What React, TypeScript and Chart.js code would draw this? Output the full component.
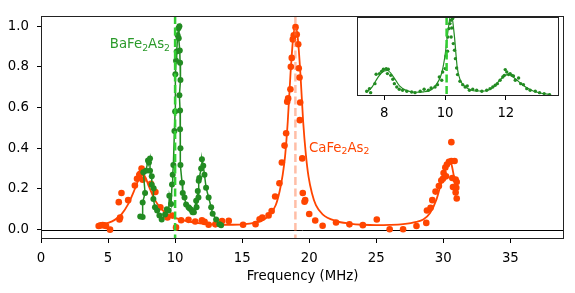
import React, { useEffect, useRef } from 'react';
import Chart from 'chart.js/auto';

const FONT = 'DejaVu Sans';
const FS = 13.3;
const ORANGE = '#ff4500';
const GREEN = '#228b22';
const LIME = '#32cd32';
const SALMON = 'rgba(255,110,60,0.45)';

// CaFe2As2 data points (frequency MHz, normalized amplitude)
const caFreq = [4.30, 4.45, 4.60, 4.72, 4.85, 5.15, 5.80, 5.85, 5.90, 6.00, 6.50, 7.00, 7.16, 7.33, 7.40, 7.50, 7.58, 8.20, 8.53, 8.90, 9.43, 9.80, 10.07, 10.45, 11.0, 11.5, 12.0, 12.2, 12.5, 13.0, 13.5, 14.0, 15.07, 16.0, 16.3, 16.5, 16.97, 17.2, 17.46, 17.78, 17.96, 18.16, 18.28, 18.36, 18.43, 18.6, 18.63, 18.7, 18.78, 18.85, 18.98, 19.07, 19.18, 19.22, 19.28, 19.3, 19.33, 19.48, 19.52, 19.65, 19.7, 20.0, 20.45, 21.0, 22.0, 23.0, 24.0, 25.04, 26.0, 27.0, 28.0, 28.73, 28.78, 29.05, 29.18, 29.42, 29.67, 29.85, 29.97, 30.02, 30.15, 30.2, 30.27, 30.42, 30.6, 30.6, 30.67, 30.72, 30.84, 30.92, 30.92, 30.97, 31.0, 31.0];
const caAmp = [0.018, 0.021, 0.022, 0.021, 0.018, 0.0, 0.135, 0.05, 0.06, 0.18, 0.145, 0.217, 0.25, 0.27, 0.275, 0.30, 0.245, 0.225, 0.185, 0.11, 0.06, 0.069, 0.011, 0.046, 0.048, 0.04, 0.046, 0.038, 0.024, 0.026, 0.042, 0.043, 0.024, 0.027, 0.051, 0.059, 0.07, 0.091, 0.163, 0.228, 0.33, 0.413, 0.474, 0.629, 0.645, 0.69, 0.80, 0.844, 0.935, 0.955, 0.995, 0.959, 0.911, 0.793, 0.748, 0.538, 0.625, 0.35, 0.18, 0.137, 0.145, 0.077, 0.045, 0.019, 0.035, 0.026, 0.022, 0.05, 0.002, 0.002, 0.018, 0.033, 0.094, 0.107, 0.145, 0.187, 0.214, 0.241, 0.25, 0.278, 0.305, 0.262, 0.32, 0.333, 0.337, 0.43, 0.254, 0.209, 0.337, 0.246, 0.182, 0.206, 0.234, 0.153];

// CaFe2As2 fit curve
const caFitFreq = [4.3, 5.0, 5.5, 6.0, 6.5, 7.0, 7.3, 7.55, 7.8, 8.0, 8.5, 9.0, 9.5, 10, 11, 12, 13, 14, 15, 16, 16.5, 17, 17.5, 17.8, 18.0, 18.2, 18.4, 18.6, 18.8, 18.97, 19.15, 19.35, 19.55, 19.75, 19.95, 20.2, 20.5, 21, 22, 23, 24, 25, 26, 27, 28, 28.5, 29, 29.5, 29.8, 30.1, 30.35, 30.5, 30.65, 30.8, 31.0];
const caFitAmp = [0.02, 0.033, 0.048, 0.075, 0.125, 0.2, 0.25, 0.275, 0.255, 0.22, 0.145, 0.1, 0.073, 0.058, 0.04, 0.03, 0.025, 0.024, 0.026, 0.035, 0.045, 0.07, 0.12, 0.19, 0.26, 0.36, 0.53, 0.76, 0.94, 1.0, 0.94, 0.76, 0.53, 0.37, 0.26, 0.18, 0.12, 0.075, 0.042, 0.03, 0.024, 0.022, 0.023, 0.027, 0.038, 0.05, 0.08, 0.15, 0.22, 0.29, 0.33, 0.34, 0.31, 0.26, 0.22];

// BaFe2As2 data (points joined in measured order)
const baFreq = [7.40, 7.58, 7.58, 7.76, 7.63, 7.83, 7.98, 8.05, 8.13, 8.13, 8.26, 8.26, 8.40, 8.38, 8.50, 8.66, 8.83, 9.00, 9.25, 9.38, 9.52, 9.57, 9.70, 9.77, 9.82, 9.87, 9.95, 10.00, 10.02, 10.07, 10.12, 10.19, 10.25, 10.32, 10.27, 10.35, 10.37, 10.40, 10.32, 10.37, 10.37, 10.40, 10.40, 10.52, 10.57, 10.70, 10.82, 11.00, 11.07, 11.20, 11.30, 11.40, 11.57, 11.60, 11.69, 11.74, 11.76, 11.80, 11.94, 12.00, 12.10, 12.19, 12.31, 12.50, 12.69, 12.80, 13.06, 13.30, 13.43];
const baAmp = [0.065, 0.062, 0.133, 0.18, 0.282, 0.289, 0.34, 0.33, 0.349, 0.289, 0.262, 0.22, 0.203, 0.15, 0.11, 0.094, 0.07, 0.05, 0.075, 0.10, 0.094, 0.166, 0.126, 0.222, 0.27, 0.318, 0.485, 0.58, 0.764, 0.83, 0.876, 0.955, 0.99, 1.0, 0.94, 0.88, 0.82, 0.735, 0.66, 0.585, 0.493, 0.40, 0.318, 0.23, 0.18, 0.158, 0.123, 0.11, 0.105, 0.098, 0.086, 0.086, 0.142, 0.11, 0.19, 0.158, 0.24, 0.254, 0.30, 0.346, 0.314, 0.27, 0.206, 0.158, 0.11, 0.078, 0.05, 0.027, 0.022];

// Inset: BaFe2As2 detail
const insFreq = [7.42, 7.55, 7.51, 7.69, 7.73, 7.84, 7.91, 7.97, 8.06, 8.13, 8.10, 8.21, 8.28, 8.33, 8.41, 8.49, 8.60, 8.74, 8.90, 9.01, 9.18, 9.31, 9.45, 9.54, 9.67, 9.75, 9.81, 9.89, 9.92, 10.00, 10.03, 10.08, 10.09, 10.13, 10.16, 10.19, 10.22, 10.25, 10.20, 10.27, 10.31, 10.34, 10.38, 10.41, 10.49, 10.58, 10.66, 10.73, 10.80, 10.91, 11.04, 11.21, 11.37, 11.48, 11.57, 11.65, 11.72, 11.81, 11.90, 11.95, 11.98, 12.03, 12.09, 12.14, 12.20, 12.25, 12.31, 12.42, 12.49, 12.58, 12.69, 12.80, 12.97, 13.11, 13.26, 13.44];
const insAmp = [0.066, 0.05, 0.098, 0.158, 0.27, 0.278, 0.305, 0.33, 0.338, 0.33, 0.278, 0.257, 0.21, 0.158, 0.118, 0.09, 0.078, 0.066, 0.058, 0.05, 0.066, 0.09, 0.078, 0.106, 0.118, 0.146, 0.237, 0.198, 0.297, 0.338, 0.488, 0.545, 0.716, 0.816, 0.876, 0.915, 0.823, 0.936, 0.716, 0.637, 0.557, 0.457, 0.345, 0.266, 0.186, 0.146, 0.118, 0.13, 0.078, 0.09, 0.078, 0.066, 0.078, 0.098, 0.118, 0.138, 0.158, 0.198, 0.237, 0.257, 0.326, 0.297, 0.266, 0.278, 0.257, 0.249, 0.198, 0.225, 0.158, 0.146, 0.098, 0.078, 0.066, 0.05, 0.039, 0.027];
const insFitFreq = [7.4, 7.6, 7.8, 8.0, 8.1, 8.3, 8.5, 8.7, 9.0, 9.3, 9.6, 9.8, 9.9, 10.0, 10.1, 10.2, 10.3, 10.4, 10.5, 10.7, 11.0, 11.3, 11.6, 11.8, 12.0, 12.1, 12.3, 12.6, 12.9, 13.2, 13.45];
const insFitAmp = [0.05, 0.12, 0.24, 0.31, 0.315, 0.24, 0.13, 0.08, 0.055, 0.06, 0.1, 0.2, 0.3, 0.5, 0.8, 1.0, 0.75, 0.35, 0.2, 0.11, 0.07, 0.07, 0.12, 0.2, 0.26, 0.27, 0.22, 0.13, 0.07, 0.04, 0.03];

const xTicksMain = [0, 5, 10, 15, 20, 25, 30, 35];
const yTicksMain = [0, 0.2, 0.4, 0.6, 0.8, 1.0];
const insTicks = [8, 10, 12];
const baMarker = 10.0;
const caMarker = 18.97;
const insMarker = 10.05;

const pts = (xs: number[], ys: number[]) => xs.map((x, i) => ({ x, y: ys[i] }));

function drawChem(ctx: CanvasRenderingContext2D, parts: [string, boolean][], x: number, y: number, align: 'left' | 'right', color: string) {
  const sub = FS * 0.7;
  ctx.save();
  ctx.fillStyle = color;
  ctx.textBaseline = 'alphabetic';
  ctx.textAlign = 'left';
  let w = 0;
  for (const [t, s] of parts) {
    ctx.font = `${s ? sub : FS}px "${FONT}"`;
    w += ctx.measureText(t).width;
  }
  let cx = align === 'right' ? x - w : x;
  for (const [t, s] of parts) {
    ctx.font = `${s ? sub : FS}px "${FONT}"`;
    ctx.fillText(t, cx, s ? y + 2.6 : y);
    cx += ctx.measureText(t).width;
  }
  ctx.restore();
}

function vline(chart: any, xv: number, color: string, width: number) {
  const { ctx, chartArea } = chart;
  const px = chart.scales.x.getPixelForValue(xv);
  ctx.save();
  ctx.beginPath();
  ctx.rect(chartArea.left, chartArea.top, chartArea.right - chartArea.left, chartArea.bottom - chartArea.top);
  ctx.clip();
  ctx.strokeStyle = color;
  ctx.lineWidth = width;
  ctx.setLineDash([8, 3.5]);
  ctx.beginPath();
  ctx.moveTo(px, chartArea.top);
  ctx.lineTo(px, chartArea.bottom);
  ctx.stroke();
  ctx.restore();
}

function frame(chart: any) {
  const { ctx, chartArea } = chart;
  ctx.save();
  ctx.strokeStyle = '#222';
  ctx.lineWidth = 1;
  const l = Math.round(chartArea.left) + 0.5;
  const t = Math.round(chartArea.top) + 0.5;
  const r = Math.round(chartArea.right) - 0.5;
  const b = Math.round(chartArea.bottom) - 0.5;
  ctx.strokeRect(l, t, r - l, b - t);
  ctx.restore();
}

const mainPlugin = {
  id: 'mainDecor',
  beforeDatasetsDraw(chart: any) {
    const { ctx, chartArea } = chart;
    const py = Math.round(chart.scales.y.getPixelForValue(0)) + 0.5;
    ctx.save();
    ctx.strokeStyle = '#000';
    ctx.lineWidth = 1;
    ctx.beginPath();
    ctx.moveTo(chartArea.left, py);
    ctx.lineTo(chartArea.right, py);
    ctx.stroke();
    ctx.restore();
  },
  afterDatasetsDraw(chart: any) {
    vline(chart, baMarker, LIME, 2.5);
    vline(chart, caMarker, SALMON, 2.5);
    frame(chart);
    const ctx = chart.ctx;
    drawChem(ctx, [['BaFe', false], ['2', true], ['As', false], ['2', true]], 170, 48.3, 'right', '#2a9a2a');
    drawChem(ctx, [['CaFe', false], ['2', true], ['As', false], ['2', true]], 309, 151.7, 'left', ORANGE);
  },
};

const insetPlugin = {
  id: 'insetDecor',
  beforeDraw(chart: any) {
    const { ctx, chartArea } = chart;
    ctx.save();
    ctx.fillStyle = '#fff';
    ctx.fillRect(chartArea.left, chartArea.top, chartArea.right - chartArea.left, chartArea.bottom - chartArea.top);
    ctx.restore();
  },
  afterDatasetsDraw(chart: any) {
    vline(chart, insMarker, LIME, 2.5);
    frame(chart);
  },
};

const tickFont = { family: FONT, size: FS };

export default function App() {
  const mainRef = useRef<HTMLCanvasElement>(null);
  const insRef = useRef<HTMLCanvasElement>(null);

  useEffect(() => {
    const main = new Chart(mainRef.current!, {
      type: 'scatter',
      data: {
        datasets: [
          {
            data: pts(baFreq, baAmp),
            showLine: true,
            borderColor: GREEN,
            backgroundColor: GREEN,
            borderWidth: 1.5,
            pointRadius: 3,
            pointBorderWidth: 0,
            order: 0,
          } as any,
          {
            data: pts(caFreq, caAmp),
            showLine: false,
            backgroundColor: ORANGE,
            borderColor: ORANGE,
            pointRadius: 3.3,
            pointBorderWidth: 0,
            order: 1,
          },
          {
            data: pts(caFitFreq, caFitAmp),
            showLine: true,
            borderColor: ORANGE,
            borderWidth: 1.8,
            pointRadius: 0,
            cubicInterpolationMode: 'monotone',
            order: 2,
          } as any,
        ],
      },
      options: {
        animation: false,
        responsive: false,
        devicePixelRatio: 1,
        layout: { padding: { left: 0, right: 11, top: 10, bottom: 0 } },
        plugins: { legend: { display: false }, tooltip: { enabled: false } },
        scales: {
          x: {
            type: 'linear',
            min: 0,
            max: 39,
            afterBuildTicks: (s: any) => { s.ticks = xTicksMain.map((v) => ({ value: v })); },
            afterFit: (s: any) => { s.height = 54; },
            ticks: { font: tickFont, color: '#000', padding: 8, maxRotation: 0, autoSkip: false, callback: (v: any) => String(v) },
            grid: { drawOnChartArea: false, tickLength: 4, color: '#000', tickColor: '#000' },
            border: { display: false },
            title: { display: true, text: 'Frequency (MHz)', font: tickFont, color: '#000', padding: { top: 0, bottom: 8 } },
          },
          y: {
            type: 'linear',
            min: -0.046,
            max: 1.05,
            afterBuildTicks: (s: any) => { s.ticks = yTicksMain.map((v) => ({ value: v })); },
            afterFit: (s: any) => { s.width = 41; },
            ticks: { font: tickFont, color: '#000', padding: 8, autoSkip: false, callback: (v: any) => Number(v).toFixed(1) },
            grid: { drawOnChartArea: false, tickLength: 4, color: '#000', tickColor: '#000' },
            border: { display: false },
          },
        },
      },
      plugins: [mainPlugin],
    } as any);

    const inset = new Chart(insRef.current!, {
      type: 'scatter',
      data: {
        datasets: [
          {
            data: pts(insFreq, insAmp),
            showLine: false,
            backgroundColor: GREEN,
            borderColor: GREEN,
            pointRadius: 1.7,
            pointBorderWidth: 0,
            order: 0,
          },
          {
            data: pts(insFitFreq, insFitAmp),
            showLine: true,
            borderColor: GREEN,
            borderWidth: 1.2,
            pointRadius: 0,
            cubicInterpolationMode: 'monotone',
            order: 1,
          } as any,
        ],
      },
      options: {
        animation: false,
        responsive: false,
        devicePixelRatio: 1,
        layout: { padding: { left: 27, right: 16, top: 17, bottom: 0 } },
        plugins: { legend: { display: false }, tooltip: { enabled: false } },
        scales: {
          x: {
            type: 'linear',
            min: 7.1,
            max: 13.75,
            afterBuildTicks: (s: any) => { s.ticks = insTicks.map((v) => ({ value: v })); },
            afterFit: (s: any) => { s.height = 29; },
            ticks: { font: tickFont, color: '#000', padding: 6, maxRotation: 0, autoSkip: false, callback: (v: any) => String(v) },
            grid: { drawOnChartArea: false, tickLength: 4, color: '#000', tickColor: '#000' },
            border: { display: false },
          },
          y: {
            type: 'linear',
            display: false,
            min: 0.01,
            max: 0.955,
          },
        },
      },
      plugins: [insetPlugin],
    } as any);

    return () => {
      main.destroy();
      inset.destroy();
    };
  }, []);

  return (
    <div style={{ position: 'fixed', left: 0, top: 0, width: 575, height: 293, background: '#fff' }}>
      <canvas ref={mainRef} width={575} height={293} style={{ position: 'absolute', left: 0, top: 0, width: 575, height: 293 }} />
      <canvas ref={insRef} width={245} height={125} style={{ position: 'absolute', left: 330, top: 0, width: 245, height: 125 }} />
    </div>
  );
}
